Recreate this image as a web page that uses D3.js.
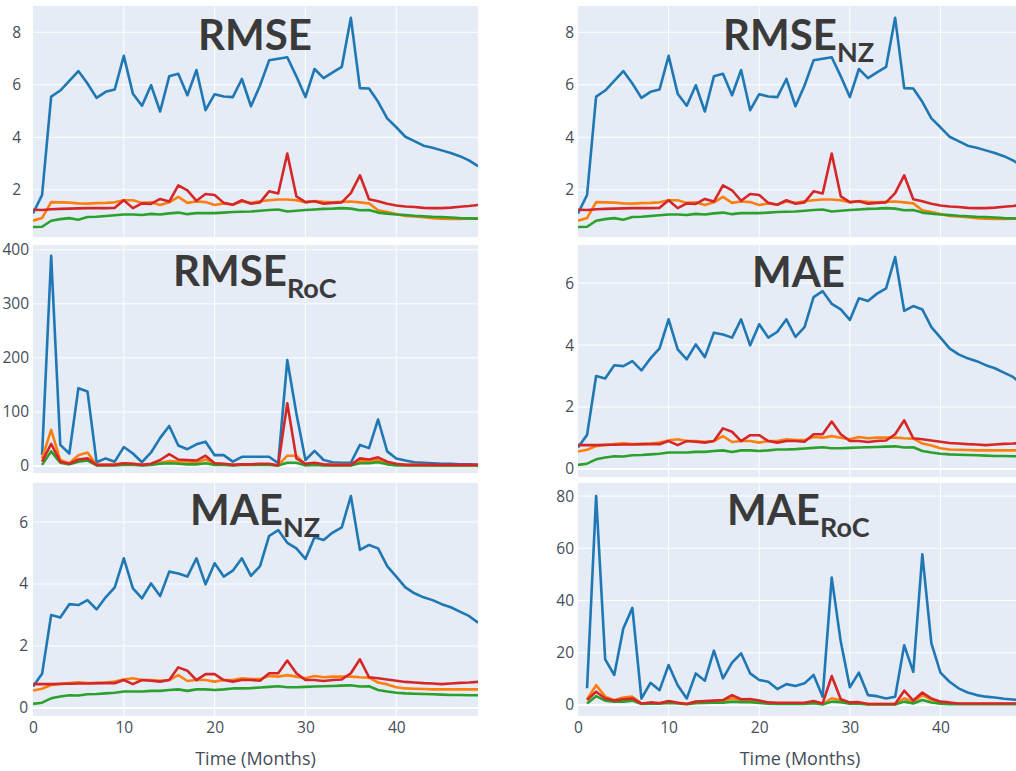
<!DOCTYPE html>
<html>
<head>
<meta charset="utf-8">
<script src="https://cdn.jsdelivr.net/npm/d3@7"></script>
<style>
  html, body { margin: 0; padding: 0; background: #ffffff; }
  svg { display: block; }
</style>
</head>
<body>
<svg id="chart" width="1016" height="771"></svg>
<script>
// Months on the horizontal axis
const months = d3.range(0, 50);      // 0 … 49
const rocMonths = d3.range(1, 50);   // rate-of-change series start at month 1
const xTicks = [0, 10, 20, 30, 40];

// Tick values for each y axis
const rmseTicks = [2, 4, 6, 8];
const rmseRocTicks = [0, 100, 200, 300, 400];
const maeTicks = [0, 2, 4, 6];
const maeRocTicks = [0, 20, 40, 60, 80];

// RMSE (also used for RMSE_NZ)
const rmseBlue = [1.1, 1.8, 5.55, 5.78, 6.15, 6.52, 6.05, 5.5, 5.73, 5.82, 7.1, 5.66, 5.2, 5.98, 4.98, 6.32, 6.42, 5.6, 6.56, 5.03,
  5.64, 5.55, 5.53, 6.22, 5.18, 5.97, 6.93, 6.99, 7.05, 6.32, 5.53, 6.6, 6.25, 6.47, 6.68, 8.55, 5.87, 5.86, 5.35, 4.72,
  4.38, 4.02, 3.85, 3.68, 3.6, 3.5, 3.4, 3.28, 3.12, 2.9];
const rmseOrange = [0.82, 0.92, 1.53, 1.52, 1.51, 1.48, 1.47, 1.49, 1.5, 1.52, 1.6, 1.6, 1.5, 1.52, 1.42, 1.52, 1.73, 1.5, 1.55, 1.53,
  1.42, 1.48, 1.44, 1.55, 1.5, 1.56, 1.6, 1.63, 1.63, 1.6, 1.52, 1.57, 1.54, 1.52, 1.54, 1.55, 1.52, 1.48, 1.22, 1.15,
  1.08, 1.0, 0.98, 0.95, 0.92, 0.9, 0.89, 0.89, 0.9, 0.9];
const rmseGreen = [0.58, 0.59, 0.82, 0.88, 0.92, 0.86, 0.96, 0.97, 1.0, 1.03, 1.06, 1.06, 1.04, 1.08, 1.06, 1.1, 1.13, 1.07, 1.11, 1.11,
  1.11, 1.13, 1.15, 1.16, 1.17, 1.2, 1.23, 1.25, 1.17, 1.2, 1.23, 1.25, 1.27, 1.28, 1.3, 1.28, 1.22, 1.23, 1.13, 1.09,
  1.06, 1.04, 1.01, 0.99, 0.97, 0.96, 0.94, 0.92, 0.91, 0.9];
const rmseRed = [1.24, 1.23, 1.26, 1.27, 1.28, 1.29, 1.3, 1.3, 1.3, 1.31, 1.6, 1.3, 1.48, 1.46, 1.65, 1.55, 2.17, 1.98, 1.58, 1.84,
  1.8, 1.5, 1.43, 1.6, 1.47, 1.52, 1.94, 1.86, 3.38, 1.75, 1.53, 1.56, 1.47, 1.5, 1.52, 1.87, 2.55, 1.64, 1.56, 1.47,
  1.4, 1.36, 1.34, 1.31, 1.3, 1.3, 1.32, 1.35, 1.38, 1.42];

// RMSE rate of change (months 1 … 49)
const rmseRocBlue = [20, 389, 39, 23, 144, 138, 7, 14, 8, 35, 23, 7, 25, 52, 74, 38, 31, 40, 45, 20,
  20, 8, 17, 17, 17, 17, 5, 196, 97, 11, 28, 11, 7, 6, 6, 39, 33, 86, 27, 14,
  10, 7, 6, 5, 4, 4, 3, 3, 2];
const rmseRocOrange = [14, 67, 11, 5, 20, 25, 2, 2, 3, 5, 4, 2, 3, 6, 9, 8, 9, 6, 12, 5,
  3, 2, 3, 3, 3, 3, 1, 19, 19, 3, 5, 2, 2, 2, 2, 9, 8, 11, 5, 3,
  2, 2, 2, 1, 1, 1, 1, 1, 1];
const rmseRocGreen = [2, 27, 6, 3, 8, 10, 1, 1, 1, 2, 2, 1, 2, 4, 5, 4, 3, 3, 5, 2,
  2, 1, 2, 2, 2, 2, 1, 6, 6, 1, 2, 1, 1, 1, 1, 5, 5, 7, 3, 1,
  1, 1, 1, 1, 1, 1, 1, 1, 1];
const rmseRocRed = [8, 41, 8, 4, 12, 14, 2, 2, 2, 5, 4, 2, 4, 11, 22, 12, 11, 10, 19, 5,
  4, 2, 3, 3, 4, 4, 1, 116, 14, 4, 6, 3, 2, 2, 2, 14, 12, 16, 8, 4,
  2, 2, 2, 2, 2, 2, 2, 2, 2];

// MAE (also used for MAE_NZ)
const maeBlue = [0.69, 1.1, 3.0, 2.92, 3.35, 3.32, 3.48, 3.18, 3.57, 3.89, 4.83, 3.86, 3.54, 4.02, 3.61, 4.4, 4.34, 4.24, 4.83, 3.99,
  4.67, 4.24, 4.43, 4.83, 4.26, 4.58, 5.55, 5.74, 5.33, 5.15, 4.81, 5.51, 5.42, 5.66, 5.83, 6.84, 5.1, 5.26, 5.15, 4.58,
  4.24, 3.89, 3.7, 3.57, 3.48, 3.35, 3.25, 3.11, 2.97, 2.75];
const maeOrange = [0.56, 0.62, 0.74, 0.77, 0.8, 0.83, 0.8, 0.8, 0.82, 0.85, 0.92, 0.96, 0.9, 0.9, 0.88, 0.9, 1.06, 0.87, 0.9, 0.9,
  0.85, 0.9, 0.9, 0.96, 0.93, 0.93, 1.03, 1.01, 1.06, 1.01, 0.96, 1.03, 0.99, 1.01, 1.01, 1.01, 0.99, 0.98, 0.82, 0.76,
  0.67, 0.63, 0.62, 0.61, 0.6, 0.6, 0.6, 0.6, 0.6, 0.6];
const maeGreen = [0.13, 0.17, 0.31, 0.37, 0.41, 0.4, 0.44, 0.45, 0.47, 0.49, 0.53, 0.53, 0.53, 0.55, 0.55, 0.58, 0.6, 0.55, 0.6, 0.6,
  0.58, 0.6, 0.63, 0.63, 0.64, 0.66, 0.68, 0.7, 0.67, 0.67, 0.68, 0.69, 0.7, 0.71, 0.72, 0.73, 0.69, 0.7, 0.58, 0.53,
  0.49, 0.47, 0.46, 0.45, 0.44, 0.43, 0.42, 0.42, 0.41, 0.41];
const maeRed = [0.77, 0.77, 0.77, 0.78, 0.78, 0.79, 0.79, 0.8, 0.8, 0.8, 0.9, 0.77, 0.9, 0.88, 0.85, 0.9, 1.31, 1.2, 0.9, 1.09,
  1.09, 0.9, 0.85, 0.9, 0.9, 0.88, 1.12, 1.12, 1.53, 1.12, 0.9, 0.9, 0.87, 0.9, 0.92, 1.12, 1.57, 0.99, 0.96, 0.92,
  0.88, 0.84, 0.82, 0.8, 0.79, 0.77, 0.79, 0.81, 0.82, 0.84];

// MAE rate of change (months 1 … 49)
const maeRocBlue = [6.4, 80, 17.5, 11.5, 29.3, 37.2, 2.5, 8.5, 5.7, 15.3, 7.6, 2.5, 12.1, 9.3, 20.8, 10.2, 16.2, 19.8, 12.1, 9.6,
  8.9, 6.1, 8.0, 7.3, 8.3, 11.5, 3.2, 48.8, 24.2, 6.8, 12.4, 3.8, 3.4, 2.5, 3.2, 22.9, 12.7, 57.7, 23.6, 12.4,
  8.9, 6.4, 4.8, 3.8, 3.2, 2.9, 2.4, 2.1, 1.8];
const maeRocOrange = [2.2, 7.6, 3.2, 1.8, 2.9, 3.2, 0.6, 0.8, 0.8, 1.3, 0.9, 0.5, 1.2, 1.3, 1.5, 1.5, 2.6, 1.8, 1.9, 1.4,
  0.8, 0.7, 0.7, 0.7, 0.8, 1.2, 0.4, 2.6, 1.8, 0.8, 0.8, 0.4, 0.4, 0.4, 0.4, 2.6, 1.2, 3.8, 2.0, 1.0,
  0.5, 0.5, 0.5, 0.5, 0.5, 0.5, 0.5, 0.5, 0.5];
const maeRocGreen = [0.6, 3.4, 1.7, 1.3, 1.3, 1.7, 0.4, 0.5, 0.5, 0.8, 0.6, 0.3, 0.7, 0.8, 0.9, 0.9, 1.3, 1.1, 1.1, 0.8,
  0.5, 0.4, 0.4, 0.4, 0.4, 0.7, 0.2, 1.3, 1.1, 0.5, 0.5, 0.2, 0.2, 0.2, 0.2, 1.3, 0.6, 1.9, 1.0, 0.5,
  0.3, 0.3, 0.3, 0.3, 0.3, 0.3, 0.3, 0.3, 0.3];
const maeRocRed = [1.9, 5.1, 2.5, 1.7, 2.2, 2.5, 0.6, 1.0, 0.7, 1.5, 0.9, 0.4, 1.3, 1.5, 1.7, 1.9, 3.8, 2.2, 2.3, 1.7,
  1.0, 0.9, 0.9, 0.9, 0.9, 1.5, 0.6, 11.1, 2.2, 1.0, 1.1, 0.4, 0.4, 0.4, 0.4, 5.5, 1.7, 4.8, 2.5, 1.3,
  1.0, 0.6, 0.6, 0.6, 0.6, 0.6, 0.6, 0.6, 0.6];

const seriesColors = ["#1f77b4", "#ff7f0e", "#2ca02c", "#d62728"];

// Panel layout: plot rectangle, y range, title placement
const panels = [
  { title: "RMSE", sub: "", xs: months, series: [rmseBlue, rmseOrange, rmseGreen, rmseRed],
    x0: 33, y0: 6, w: 445, h: 231, yDomain: [0.2, 9.0], yTicks: rmseTicks, labelGap: 12,
    titleX: 198, titleY: 50, xAxis: false },
  { title: "RMSE", sub: "NZ", xs: months, series: [rmseBlue, rmseOrange, rmseGreen, rmseRed],
    x0: 578, y0: 6, w: 444, h: 231, yDomain: [0.2, 9.0], yTicks: rmseTicks, labelGap: 4,
    titleX: 723, titleY: 50, xAxis: false },
  { title: "RMSE", sub: "RoC", xs: rocMonths, series: [rmseRocBlue, rmseRocOrange, rmseRocGreen, rmseRocRed],
    x0: 33, y0: 245, w: 445, h: 228, yDomain: [-13, 409], yTicks: rmseRocTicks, labelGap: 4,
    titleX: 173, titleY: 286, xAxis: false },
  { title: "MAE", sub: "", xs: months, series: [maeBlue, maeOrange, maeGreen, maeRed],
    x0: 578, y0: 245, w: 444, h: 232, yDomain: [-0.26, 7.23], yTicks: maeTicks, labelGap: 4,
    titleX: 752, titleY: 287, xAxis: false },
  { title: "MAE", sub: "NZ", xs: months, series: [maeBlue, maeOrange, maeGreen, maeRed],
    x0: 33, y0: 483, w: 445, h: 233, yDomain: [-0.26, 7.26], yTicks: maeTicks, labelGap: 5,
    titleX: 190, titleY: 525, xAxis: true },
  { title: "MAE", sub: "RoC", xs: rocMonths, series: [maeRocBlue, maeRocOrange, maeRocGreen, maeRocRed],
    x0: 578, y0: 483, w: 444, h: 233, yDomain: [-4.2, 85], yTicks: maeRocTicks, labelGap: 4,
    titleX: 727, titleY: 525, xAxis: true }
];

const svg = d3.select("#chart");
const tickFont = "'Open Sans', 'Noto Sans', sans-serif";
const tickColor = "#454d5a";

panels.forEach((p, i) => {
  const g = svg.append("g").attr("transform", `translate(${p.x0},${p.y0})`);
  const x = d3.scaleLinear().domain([0, 49]).range([0, p.w]);
  const y = d3.scaleLinear().domain(p.yDomain).range([p.h, 0]);

  g.append("rect").attr("width", p.w).attr("height", p.h).attr("fill", "#e5ecf6");

  const clipId = "clip" + i;
  g.append("clipPath").attr("id", clipId)
    .append("rect").attr("width", p.w).attr("height", p.h);

  // grid
  g.selectAll(".vgrid").data(xTicks.filter(t => t > 0)).join("line")
    .attr("x1", d => x(d)).attr("x2", d => x(d))
    .attr("y1", 0).attr("y2", p.h)
    .attr("stroke", "#ffffff").attr("stroke-width", 1);
  g.selectAll(".hgrid").data(p.yTicks).join("line")
    .attr("x1", 0).attr("x2", p.w)
    .attr("y1", d => y(d)).attr("y2", d => y(d))
    .attr("stroke", "#ffffff").attr("stroke-width", d => d === 0 ? 2 : 1);

  // series lines
  const line = d3.line().x((d, k) => x(p.xs[k])).y(d => y(d));
  const lines = g.append("g").attr("clip-path", `url(#${clipId})`);
  p.series.forEach((s, k) => {
    lines.append("path").datum(s)
      .attr("d", line)
      .attr("fill", "none")
      .attr("stroke", seriesColors[k])
      .attr("stroke-width", 2.6)
      .attr("stroke-linejoin", "round");
  });

  // y axis labels
  const yAxis = d3.axisLeft(y).tickValues(p.yTicks).tickSize(0).tickPadding(p.labelGap);
  const ya = g.append("g").call(yAxis);
  ya.select(".domain").remove();
  ya.selectAll("text").attr("font-family", tickFont).attr("font-size", 15.5).attr("fill", tickColor);

  // x axis labels (bottom row only)
  if (p.xAxis) {
    const xAxis = d3.axisBottom(x).tickValues(xTicks).tickSize(0).tickPadding(6);
    const xa = g.append("g").attr("transform", `translate(0,${p.h})`).call(xAxis);
    xa.select(".domain").remove();
    xa.selectAll("text").attr("font-family", tickFont).attr("font-size", 15.5).attr("fill", tickColor);

    svg.append("text")
      .attr("x", p.x0 + p.w / 2).attr("y", 765)
      .attr("text-anchor", "middle")
      .attr("font-family", tickFont).attr("font-size", 18).attr("fill", tickColor)
      .text("Time (Months)");
  }

  // panel title with optional subscript
  const t = svg.append("text")
    .attr("x", p.titleX).attr("y", p.titleY)
    .attr("font-family", "Lato, 'Open Sans', sans-serif")
    .attr("font-weight", 700)
    .attr("fill", "#3a3a3a");
  t.append("tspan").attr("font-size", 42).text(p.title);
  if (p.sub) {
    t.append("tspan").attr("font-size", 27).attr("dy", 12).text(p.sub);
  }
});
</script>
</body>
</html>
